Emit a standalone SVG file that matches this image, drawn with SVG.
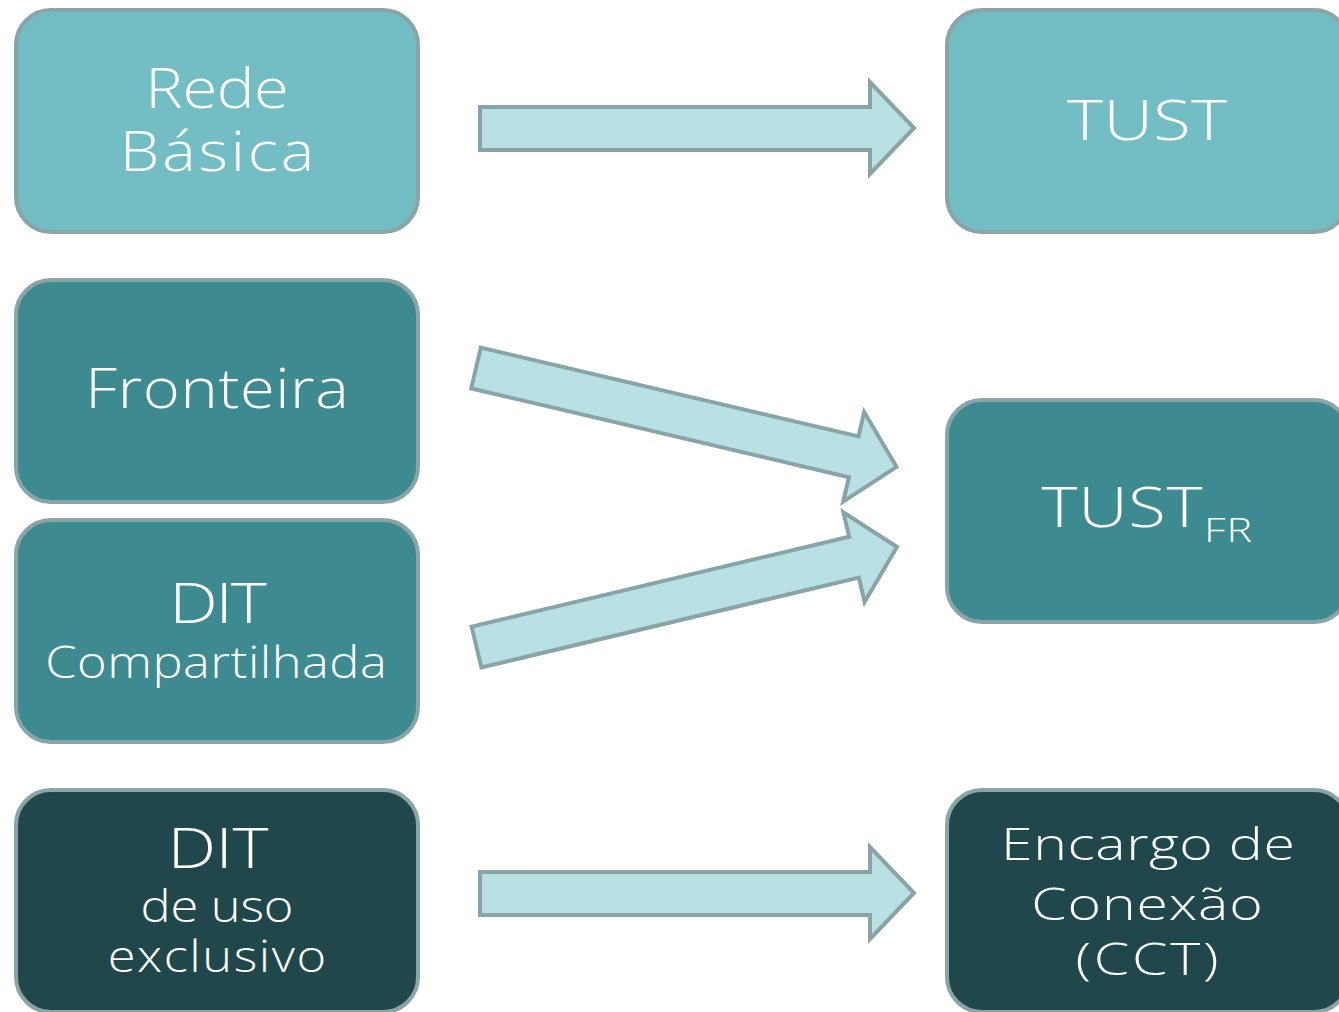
<svg xmlns="http://www.w3.org/2000/svg" width="1339" height="1012" viewBox="0 0 1339 1012">
<style>
.box{stroke:#8aa5a8;stroke-width:4}
.l{fill:#72bec4}
.m{fill:#3d8b91}
.d{fill:#20484a}
.arrow{fill:#b9e0e3;stroke:#88a4a6;stroke-width:4;stroke-linejoin:miter}
text{font-family:"Open Sans","Liberation Sans",sans-serif;fill:#ffffff;text-anchor:middle;font-weight:300}
.big{font-size:55px}
.med{font-size:44px}
.sub{font-size:33px}
</style>
<rect width="1339" height="1012" fill="#ffffff"/>
<g id="connectors">
<polygon class="arrow" points="480,107 870,107 870,82 914,128 870,174 870,150 480,150"/>
<polygon class="arrow" points="480.8,347.6 858.5,436.4 864.2,412 896.5,466.9 843.2,501.6 848.9,477.2 471.2,388.4"/>
<polygon class="arrow" points="471.6,626.6 849.1,536.8 843.4,512.4 897,547 864.6,602 858.9,577.6 481.4,667.4"/>
<polygon class="arrow" points="480,872 870,872 870,847 914,893 870,939 870,915 480,915"/>
</g>
<g id="rede-basica">
<rect class="box l" x="16" y="10" width="402" height="222" rx="35"/>
<text class="big" transform="translate(217,108) scale(1.15,1)" textLength="125" lengthAdjust="spacing">Rede</text>
<text class="big" transform="translate(217,171) scale(1.15,1)" textLength="169" lengthAdjust="spacing">Básica</text>
</g>
<g id="fronteira">
<rect class="box m" x="16" y="280" width="402" height="222" rx="35"/>
<text class="big" transform="translate(217,408) scale(1.15,1)" textLength="229" lengthAdjust="spacing">Fronteira</text>
</g>
<g id="dit-compartilhada">
<rect class="box m" x="16" y="520" width="402" height="222" rx="35"/>
<text class="big" transform="translate(218,623) scale(1.25,1)" textLength="78" lengthAdjust="spacing">DIT</text>
<text class="med" transform="translate(216,678) scale(1.15,1)" textLength="297" lengthAdjust="spacing">Compartilhada</text>
</g>
<g id="dit-exclusivo">
<rect class="box d" x="16" y="790" width="402" height="222" rx="35"/>
<text class="big" transform="translate(218,868) scale(1.25,1)" textLength="81" lengthAdjust="spacing">DIT</text>
<text class="med" transform="translate(217,922) scale(1.15,1)" textLength="133" lengthAdjust="spacing">de uso</text>
<text class="med" transform="translate(217,972) scale(1.15,1)" textLength="190" lengthAdjust="spacing">exclusivo</text>
</g>
<g id="tust">
<rect class="box l" x="947" y="10" width="402" height="222" rx="35"/>
<text class="big" transform="translate(1147,140) scale(1.25,1)" textLength="128" lengthAdjust="spacing">TUST</text>
</g>
<g id="tust-fr">
<rect class="box m" x="947" y="400" width="402" height="222" rx="35"/>
<text class="big" transform="translate(1122,527) scale(1.25,1)" textLength="129" lengthAdjust="spacing">TUST</text>
<text class="sub" transform="translate(1228,542) scale(1.3,1)" textLength="37" lengthAdjust="spacing">FR</text>
</g>
<g id="encargo">
<rect class="box d" x="947" y="790" width="402" height="222" rx="35"/>
<text class="med" transform="translate(1148,860) scale(1.3,1)" textLength="226" lengthAdjust="spacing">Encargo de</text>
<text class="med" transform="translate(1147,920) scale(1.3,1)" textLength="178" lengthAdjust="spacing">Conexão</text>
<text class="med" transform="translate(1147,975) scale(1.3,1)" textLength="110" lengthAdjust="spacing">(CCT)</text>
</g>
</svg>
